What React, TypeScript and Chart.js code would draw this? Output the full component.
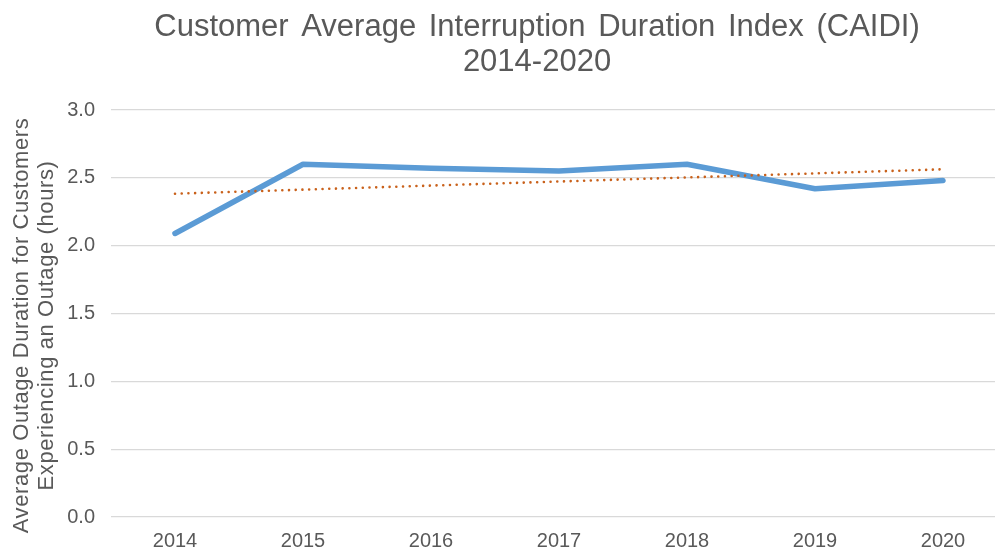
import React, { useEffect, useRef } from "react";
import { Chart, registerables } from "chart.js";

Chart.register(...registerables);

const categories = ["2014", "2015", "2016", "2017", "2018", "2019", "2020"];
const caidiValues = [2.09, 2.6, 2.57, 2.55, 2.6, 2.42, 2.48];
const yTicks = [0, 0.5, 1.0, 1.5, 2.0, 2.5, 3.0];
const titleLines = ["Customer Average Interruption Duration Index (CAIDI)", "2014-2020"];
const yTitleLines = ["Average Outage Duration for Customers", "Experiencing an Outage (hours)"];

function linearTrend(values: number[]): number[] {
  const n = values.length;
  const xs = values.map((_, i) => i + 1);
  const mx = xs.reduce((a, b) => a + b, 0) / n;
  const my = values.reduce((a, b) => a + b, 0) / n;
  let num = 0;
  let den = 0;
  xs.forEach((x, i) => {
    num += (x - mx) * (values[i] - my);
    den += (x - mx) * (x - mx);
  });
  const slope = num / den;
  const intercept = my - slope * mx;
  return xs.map((x) => intercept + slope * x);
}

const FONT = '"Liberation Sans", Arial, sans-serif';
const TEXT = "#595959";

const textPlugin = {
  id: "customText",
  afterDraw(chart: any) {
    const ctx = chart.ctx;
    ctx.save();
    ctx.fillStyle = TEXT;
    ctx.textAlign = "center";
    ctx.textBaseline = "middle";
    ctx.font = `31px ${FONT}`;
    try { ctx.wordSpacing = "4px"; } catch (e) {}
    ctx.fillText(titleLines[0], 537, 27);
    ctx.fillText(titleLines[1], 537, 62);
    try { ctx.wordSpacing = "0px"; ctx.letterSpacing = "0.6px"; } catch (e) {}
    const area = chart.chartArea;
    const cy = (area.top + area.bottom) / 2 + 12;
    ctx.translate(0, cy);
    ctx.rotate(-Math.PI / 2);
    ctx.font = `22px ${FONT}`;
    ctx.fillText(yTitleLines[0], 0, 22);
    ctx.fillText(yTitleLines[1], 0, 47);
    ctx.restore();
  },
};

export default function App() {
  const ref = useRef<HTMLCanvasElement | null>(null);
  useEffect(() => {
    if (!ref.current) return;
    const trend = linearTrend(caidiValues);
    const chart = new Chart(ref.current, {
      type: "line",
      data: {
        labels: categories,
        datasets: [
          {
            label: "CAIDI",
            data: caidiValues,
            borderColor: "#5B9BD5",
            borderWidth: 5.5,
            borderCapStyle: "round",
            borderJoinStyle: "round",
            pointRadius: 0,
            tension: 0,
            order: 2,
          },
          {
            label: "Linear trend",
            data: trend,
            borderColor: "#C9611B",
            borderWidth: 2.6,
            borderDash: [0.01, 6.7],
            borderCapStyle: "round",
            pointRadius: 0,
            tension: 0,
            order: 1,
          },
        ],
      },
      options: {
        responsive: false,
        animation: false,
        devicePixelRatio: 1,
        layout: { padding: { top: 110, right: 3, bottom: 0, left: 0 } },
        plugins: {
          legend: { display: false },
          title: { display: false },
          tooltip: { enabled: false },
        },
        scales: {
          x: {
            offset: true,
            grid: { display: false, drawTicks: false },
            border: { display: false },
            ticks: {
              color: TEXT,
              font: { family: FONT, size: 20 },
              padding: 12,
              maxRotation: 0,
            },
            afterFit(scale: any) {
              scale.height = 34;
            },
          },
          y: {
            min: 0,
            max: 3,
            grid: { color: "#D9D9D9", lineWidth: 1.2, drawTicks: false },
            border: { display: false },
            afterBuildTicks(scale: any) {
              scale.ticks = yTicks.map((v) => ({ value: v }));
            },
            ticks: {
              color: TEXT,
              font: { family: FONT, size: 20 },
              padding: 16,
              callback: (v: any) => Number(v).toFixed(1),
            },
            afterFit(scale: any) {
              scale.width = 111;
            },
          },
        },
      },
      plugins: [textPlugin],
    });
    return () => chart.destroy();
  }, []);
  return (
    <div style={{ position: "absolute", left: 0, top: 0, width: 995, height: 551, overflow: "hidden", background: "#fff" }}>
      <canvas ref={ref} width={1010} height={551} style={{ width: 1010, height: 551, display: "block" }} />
    </div>
  );
}
